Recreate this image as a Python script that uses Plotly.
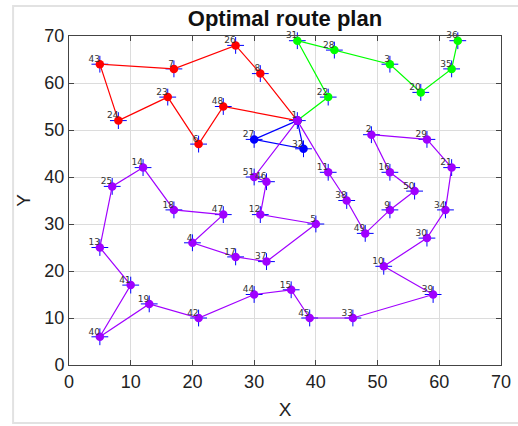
import plotly.graph_objects as go

# Customer / node coordinates (id -> (x, y))
node_ids = [1, 2, 3, 4, 5, 6, 7, 8, 9, 10, 11, 12, 13, 14, 15, 16, 17, 18, 19, 20,
            21, 22, 23, 24, 25, 26, 27, 28, 29, 30, 31, 32, 33, 34, 35, 36, 37, 38, 39, 40,
            41, 42, 43, 44, 45, 46, 47, 48, 49, 50, 51]
node_x = [37, 49, 52, 20, 40, 21, 17, 31, 52, 51, 42, 31, 5, 12, 36, 52, 27, 17, 13, 57,
          62, 42, 16, 8, 7, 27, 30, 43, 58, 58, 37, 38, 46, 61, 62, 63, 32, 45, 59, 5,
          10, 21, 5, 30, 39, 32, 25, 25, 48, 56, 30]
node_y = [52, 49, 64, 26, 30, 47, 63, 62, 33, 21, 41, 32, 25, 42, 16, 41, 23, 33, 13, 58,
          42, 57, 57, 52, 38, 68, 48, 67, 48, 27, 69, 46, 10, 33, 63, 69, 22, 35, 15, 6,
          17, 10, 64, 15, 10, 39, 32, 55, 28, 37, 40]

# Routes (sequence of node ids)
route_red = [1, 8, 26, 7, 43, 24, 23, 6, 48, 1]
route_green = [1, 22, 31, 28, 3, 20, 35, 36]
route_blue = [1, 27, 32, 1]
route_purple = [1, 51, 46, 12, 5, 37, 17, 4, 47, 18, 14, 25, 13, 41, 40, 19, 42, 44,
                15, 45, 33, 39, 10, 30, 34, 21, 29, 2, 16, 50, 9, 49, 38, 11, 1]

routes = [(route_red, "#ff0000"), (route_green, "#00ff00"),
          (route_blue, "#0000ff"), (route_purple, "#a000ff")]

pos = {n: (x, y) for n, x, y in zip(node_ids, node_x, node_y)}

fig = go.Figure()

# blue plus markers at all nodes (underneath)
fig.add_trace(go.Scatter(x=node_x, y=node_y, mode="markers",
                         marker=dict(symbol="cross-thin", size=12,
                                     line=dict(color="#0000ff", width=1)),
                         cliponaxis=False, hoverinfo="skip", showlegend=False))

for route, color in routes:
    xs = [pos[n][0] for n in route]
    ys = [pos[n][1] for n in route]
    fig.add_trace(go.Scatter(x=xs, y=ys, mode="lines+markers",
                             line=dict(color=color, width=1.2),
                             marker=dict(symbol="circle", size=8.5, color=color),
                             cliponaxis=False, hoverinfo="skip", showlegend=False))

# node labels
fig.add_trace(go.Scatter(x=node_x, y=node_y, mode="text",
                         text=[str(n) for n in node_ids],
                         textposition="top left",
                         textfont=dict(family="DejaVu Sans, Arial", size=9, color="#333333"),
                         cliponaxis=False, hoverinfo="skip", showlegend=False))

axis_common = dict(range=[0, 70], dtick=10, showgrid=True, gridcolor="#dcdcdc",
                   gridwidth=1, zeroline=False, showline=True, linecolor="#444444",
                   linewidth=1, mirror="ticks", ticks="inside", ticklen=5,
                   tickcolor="#444444", automargin=False,
                   tickfont=dict(family="Liberation Sans, Arial", size=18, color="#222222"))

fig.update_layout(
    width=518, height=426,
    margin=dict(l=69, r=17, t=36, b=61, autoexpand=False),
    paper_bgcolor="white", plot_bgcolor="white",
    title=dict(text="<b>Optimal route plan</b>", x=285 / 518, xanchor="center",
               xref="container", yref="container",
               y=1 - 18 / 426, yanchor="middle",
               font=dict(family="Liberation Sans, Arial", size=22, color="#111111")),
    xaxis=dict(**axis_common, title=dict(text="X", standoff=12,
               font=dict(family="Liberation Sans, Arial", size=19, color="#222222"))),
    yaxis=dict(**axis_common, title=dict(text="Y", standoff=8,
               font=dict(family="Liberation Sans, Arial", size=19, color="#222222"))),
    shapes=[dict(type="rect", xref="paper", yref="paper",
                 x0=-56 / 432.6, x1=1 + 20 / 432.6, y0=-58 / 329, y1=1 + 30 / 329,
                 line=dict(color="#e2e2e2", width=2), layer="below")],
)

fig.write_html("out.html", config={"displayModeBar": False},
               post_script="document.body.style.margin='0';document.body.style.overflow='hidden';")
